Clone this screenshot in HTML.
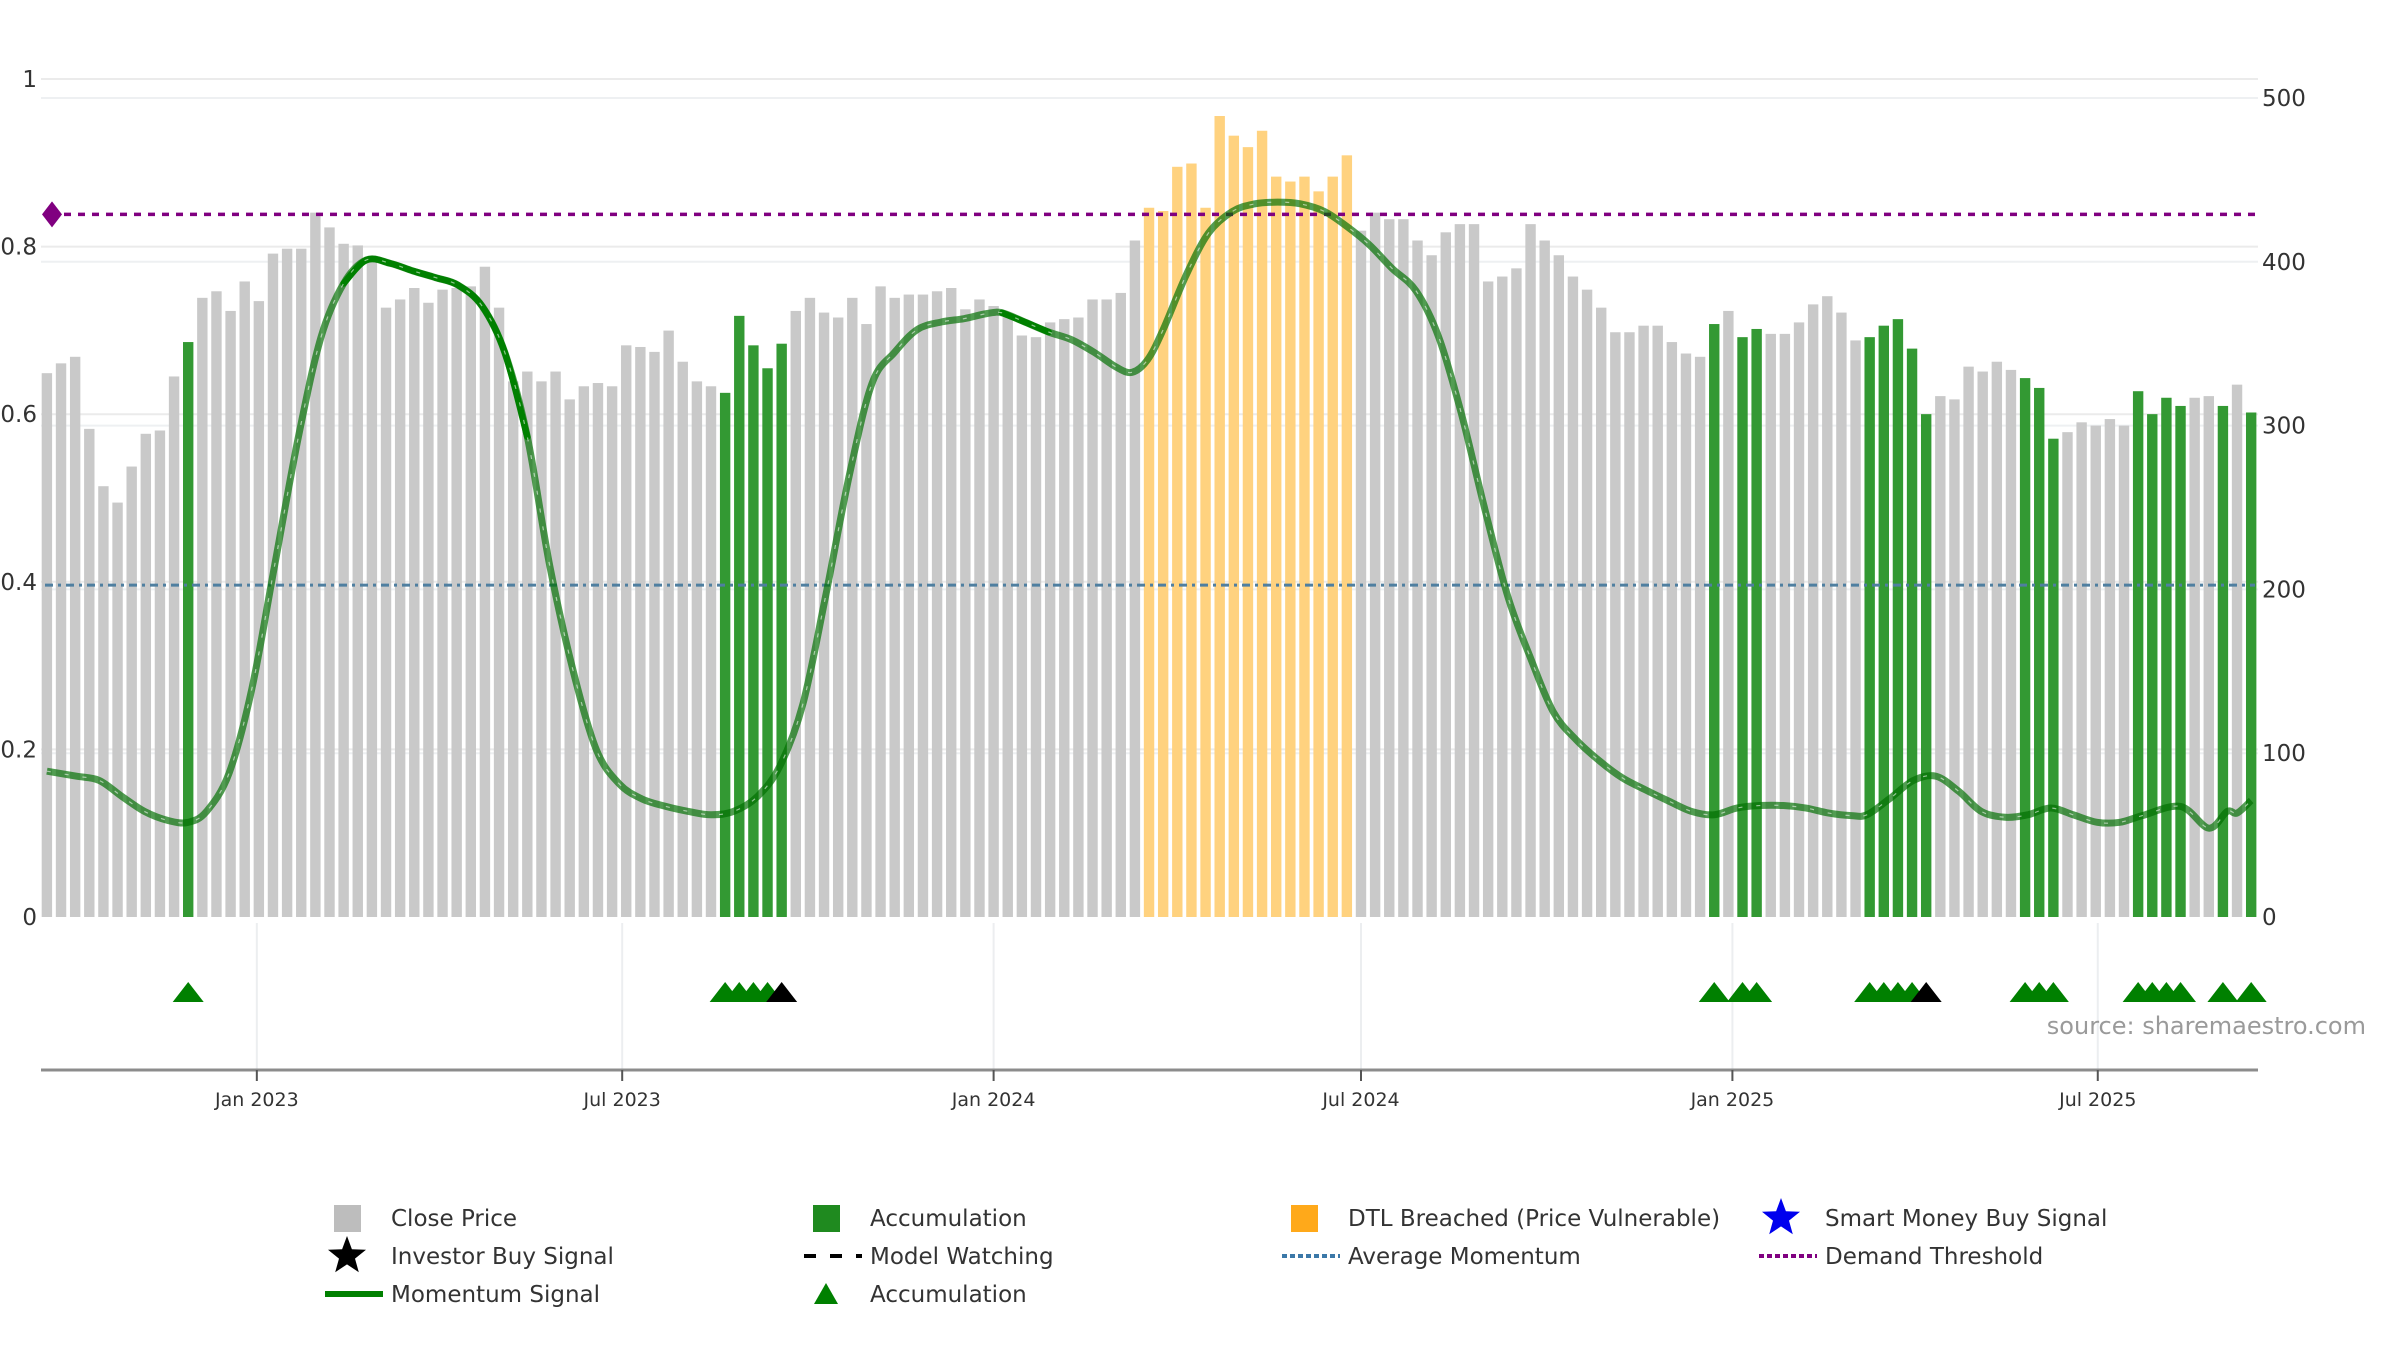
<!DOCTYPE html>
<html><head><meta charset="utf-8">
<style>
html,body{margin:0;padding:0;background:#fff;}
svg{display:block;font-family:"DejaVu Sans","Liberation Sans",sans-serif;}
</style></head>
<body>
<svg id="chart" width="2400" height="1350" viewBox="0 0 2400 1350" xmlns="http://www.w3.org/2000/svg"></svg>
<script>
// ---- data ----
const startDate = "2022-09-19";
const prices = [332,338,342,298,263,253,275,295,297,330,
351,378,382,370,388,376,405,408,408,430,
421,411,410,402,372,377,384,375,383,384,
385,397,372,327,333,327,333,316,324,326,
324,349,348,345,358,339,327,324,320,367,
349,335,350,370,378,369,366,378,362,385,
378,380,380,382,384,371,377,373,368,355,
354,363,365,366,377,377,381,413,433,431,
458,460,433,489,477,470,480,452,449,452,
443,452,465,419,430,426,426,413,404,418,
423,423,388,391,396,423,413,404,391,383,
372,357,357,361,361,351,344,342,362,370,
354,359,356,356,363,374,379,369,352,354,
361,365,347,307,318,316,336,333,339,334,
329,323,292,296,302,300,304,300,321,307,
317,312,317,318,312,325,308];
// bar category: c = close, a = accumulation, d = DTL breached
const categories = ("cccccccccca" + "c".repeat(37) + "aaaaa" + "c".repeat(25) + "d".repeat(15) +
  "c".repeat(25) + "acaa" + "c".repeat(7) + "aaaaa" + "c".repeat(6) + "aaa" + "c".repeat(5) +
  "aaaa" + "cc" + "aca").split("");
const momIdx = [0,2.1,3.7,5.3,6.9,8.6,10,11.3,12.9,14.5,16.1,17.8,19.4,21,22.6,24.3,25.9,27.5,29.1,30.8,32.4,34,35.6,37.3,38.9,40.5,42.1,43.8,45.4,47,48.6,50.3,51.9,53.5,55.1,56.8,58.4,60,61.6,63.3,64.9,66.5,67.6,69.2,70.9,72.5,74.1,75.7,76.8,77.9,79,80.6,82.2,83.9,85.5,87.1,88.7,90.4,92,93.6,95.2,96.9,98.5,100.1,101.7,103.4,105,106.6,108.2,109.9,111.5,113.1,114.7,116.4,118,119.6,121.2,122.9,124.5,126.1,127.7,128.8,130.4,132.1,133.7,135.3,136.9,138.6,140.2,141.8,143.4,145.1,146.7,148.3,151,153,154.3,155,156];
const momVal = [0.174,0.168,0.163,0.144,0.126,0.115,0.113,0.126,0.172,0.272,0.418,0.573,0.692,0.756,0.784,0.78,0.771,0.763,0.754,0.729,0.674,0.573,0.418,0.29,0.199,0.159,0.141,0.132,0.126,0.122,0.126,0.144,0.181,0.254,0.382,0.528,0.637,0.674,0.701,0.71,0.714,0.72,0.721,0.71,0.698,0.689,0.674,0.656,0.65,0.665,0.701,0.765,0.816,0.842,0.851,0.853,0.851,0.842,0.824,0.802,0.774,0.747,0.692,0.601,0.491,0.382,0.309,0.245,0.212,0.186,0.166,0.152,0.139,0.126,0.122,0.13,0.133,0.133,0.13,0.124,0.121,0.122,0.141,0.163,0.168,0.15,0.126,0.119,0.122,0.13,0.122,0.113,0.113,0.121,0.132,0.106,0.126,0.124,0.139];
const strongRanges = [[21,34],[67,71.5],[91.5,93]];
const blackTriIdx = [52,133];
const demandThreshold = 0.8385;
const avgMomentum = 0.396;
const leftTicks = [0,0.2,0.4,0.6,0.8,1];
const leftTickLabels = ["0","0.2","0.4","0.6","0.8","1"];
const rightTicks = [0,100,200,300,400,500];
const dateTicks = ["2023-01-01","2023-07-01","2024-01-01","2024-07-01","2025-01-01","2025-07-01"];
const dateTickLabels = ["Jan 2023","Jul 2023","Jan 2024","Jul 2024","Jan 2025","Jul 2025"];

// ---- scales ----
const X0 = 46.9, STEP = 14.13, BASE = 917, LH = 838, RH = 819/500;
const AXY = 1070;
const xS = i => X0 + STEP * i;
const yL = v => BASE - v * LH;
const yR = v => BASE - v * RH;
const weekIdx = d => (new Date(d) - new Date(startDate)) / (7 * 864e5);
const NS = "http://www.w3.org/2000/svg";
const svg = document.getElementById("chart");
function mk(tag, attrs, parent) {
  const e = document.createElementNS(NS, tag);
  for (const k in attrs) e.setAttribute(k, attrs[k]);
  (parent || svg).appendChild(e);
  return e;
}
// gridlines
const grid = mk("g", {});


leftTicks.forEach(v => { if (v > 0) mk("line", {x1:41, x2:2258, y1:yL(v), y2:yL(v), stroke:"#ebebeb", "stroke-width":2}, grid); });
rightTicks.forEach(v => { if (v > 0) mk("line", {x1:41, x2:2258, y1:yR(v), y2:yR(v), stroke:"#eef0f2", "stroke-width":2}, grid); });
dateTicks.forEach(d => { const x = xS(weekIdx(d)); mk("line", {x1:x, x2:x, y1:923, y2:AXY, stroke:"#eceef0", "stroke-width":2}, grid); });

// bars
const colors = {c:"#c9c9c9", a:"#339933", d:"#ffd27f"};
const bars = mk("g", {});


prices.forEach((p, i) => {
  const r = mk("rect", {x: xS(i) - 5.2, y: yR(p), width: 10.4, height: BASE - yR(p), fill: colors[categories[i]]}, bars);
  
  
});

// reference lines
const dl = mk("line", {x1:50, x2:2255, y1:yL(demandThreshold), y2:yL(demandThreshold), stroke:"#800080", "stroke-width":3.5, "stroke-dasharray":"7 7"});


const dm = mk("path", {d:`M42 ${yL(demandThreshold)} l10 -13 l10 13 l-10 13 z`, fill:"#800080"});


const al = mk("line", {x1:45, x2:2255, y1:yL(avgMomentum), y2:yL(avgMomentum), stroke:"#4f7fa0", "stroke-width":3, "stroke-dasharray":"8 5 3 5"});



// momentum line (smooth)
function smoothPath(pts) {
  let d = `M${pts[0][0]} ${pts[0][1]}`;
  for (let i = 0; i < pts.length - 1; i++) {
    const p0 = pts[i-1] || pts[i], p1 = pts[i], p2 = pts[i+1], p3 = pts[i+2] || p2;
    const c1 = [p1[0] + (p2[0]-p0[0])/6, p1[1] + (p2[1]-p0[1])/6];
    const c2 = [p2[0] - (p3[0]-p1[0])/6, p2[1] - (p3[1]-p1[1])/6];
    d += ` C${c1[0]} ${c1[1]} ${c2[0]} ${c2[1]} ${p2[0]} ${p2[1]}`;
  }
  return d;
}
const momPts = momIdx.map((ix, k) => [xS(ix), yL(momVal[k])]);
const ml = mk("path", {d: smoothPath(momPts), fill:"none", stroke:"rgba(0,110,0,0.68)", "stroke-width":7, "stroke-linejoin":"round"});


strongRanges.forEach(r => {
  const pts = momPts.filter((p, k) => momIdx[k] >= r[0] && momIdx[k] <= r[1]);
  if (pts.length > 1) {
    const s = mk("path", {d: smoothPath(pts), fill:"none", stroke:"#008000", "stroke-width":6.5, "stroke-linecap":"round"});
    
    
  }
});
const ms = mk("path", {d: smoothPath(momPts), fill:"none", stroke:"rgba(255,255,255,0.55)", "stroke-width":1.2, "stroke-dasharray":"4 14"});



// triangles
const tri = mk("g", {});


categories.forEach((c, i) => {
  if (c !== 'a') return;
  const x = xS(i), black = blackTriIdx.includes(i);
  const t = mk("path", {d:`M${x-15.5} 1002 L${x} 982 L${x+15.5} 1002 Z`, fill: black ? "#000" : "#008000"}, tri);
  
  
});

// axes
const ax = mk("line", {x1:41, x2:2258, y1:AXY, y2:AXY, stroke:"#8c8c8c", "stroke-width":3});


dateTicks.forEach((d, k) => {
  const x = xS(weekIdx(d));
  const tk = mk("line", {x1:x, x2:x, y1:AXY, y2:AXY+11, stroke:"#555", "stroke-width":2});
  
  
  const t = mk("text", {x:x, y:1106, "text-anchor":"middle", "font-size":19, fill:"#333"});
  t.textContent = dateTickLabels[k];
  
  
});
leftTicks.forEach((v, k) => {
  const t = mk("text", {x:37, y:yL(v) + 8, "text-anchor":"end", "font-size":23, fill:"#333"});
  t.textContent = leftTickLabels[k];
  
  
});
rightTicks.forEach(v => {
  const t = mk("text", {x:2262, y:yR(v) + 8, "font-size":23, fill:"#333"});
  t.textContent = String(v);
  
  
});
const src = mk("text", {x:2366, y:1034, "text-anchor":"end", "font-size":24, fill:"#9a9a9a"});
src.textContent = "source: sharemaestro.com";



// legend
const lg = mk("g", {});


const colX = [389, 868, 1346, 1823], rowY = [1226, 1264, 1302];
function star(cx, cy, r, fill) {
  let d = "";
  for (let k = 0; k < 10; k++) {
    const a = -Math.PI/2 + k*Math.PI/5, rr = k % 2 ? r*0.42 : r;
    d += (k ? "L" : "M") + (cx + rr*Math.cos(a)).toFixed(1) + " " + (cy + rr*Math.sin(a)).toFixed(1);
  }
  return mk("path", {d: d + "Z", fill: fill}, lg);
}
const entries = [
  [0,0,"Close Price","sq","#bdbdbd"],[1,0,"Accumulation","sq","#1f8a1f"],[2,0,"DTL Breached (Price Vulnerable)","sq","#ffa91a"],[3,0,"Smart Money Buy Signal","star","#0000ee"],
  [0,1,"Investor Buy Signal","star","#000"],[1,1,"Model Watching","dash","#000"],[2,1,"Average Momentum","dot","#3b78a8"],[3,1,"Demand Threshold","dot","#800080"],
  [0,2,"Momentum Signal","line","#008000"],[1,2,"Accumulation","tri","#008000"]
];
entries.forEach(e => {
  const x = colX[e[0]], y = rowY[e[1]];
  let s;
  if (e[3] === "sq") s = mk("rect", {x:x-55, y:y-21, width:27, height:27, fill:e[4]}, lg);
  else if (e[3] === "star") s = star(x-42, y-8, 20, e[4]);
  else if (e[3] === "dash") s = mk("line", {x1:x-64, x2:x-6, y1:y-8, y2:y-8, stroke:e[4], "stroke-width":4, "stroke-dasharray":"12 14"}, lg);
  else if (e[3] === "dot") s = mk("line", {x1:x-64, x2:x-6, y1:y-8, y2:y-8, stroke:e[4], "stroke-width":4, "stroke-dasharray":"5 3"}, lg);
  else if (e[3] === "line") s = mk("line", {x1:x-64, x2:x-6, y1:y-8, y2:y-8, stroke:e[4], "stroke-width":6}, lg);
  else s = mk("path", {d:`M${x-54} ${y+2} L${x-42} ${y-19} L${x-30} ${y+2} Z`, fill:e[4]}, lg);
  
  
  const t = mk("text", {x:x+2, y:y, "font-size":23, fill:"#333"}, lg);
  t.textContent = e[2];
  
  
});
</script>
</body></html>
